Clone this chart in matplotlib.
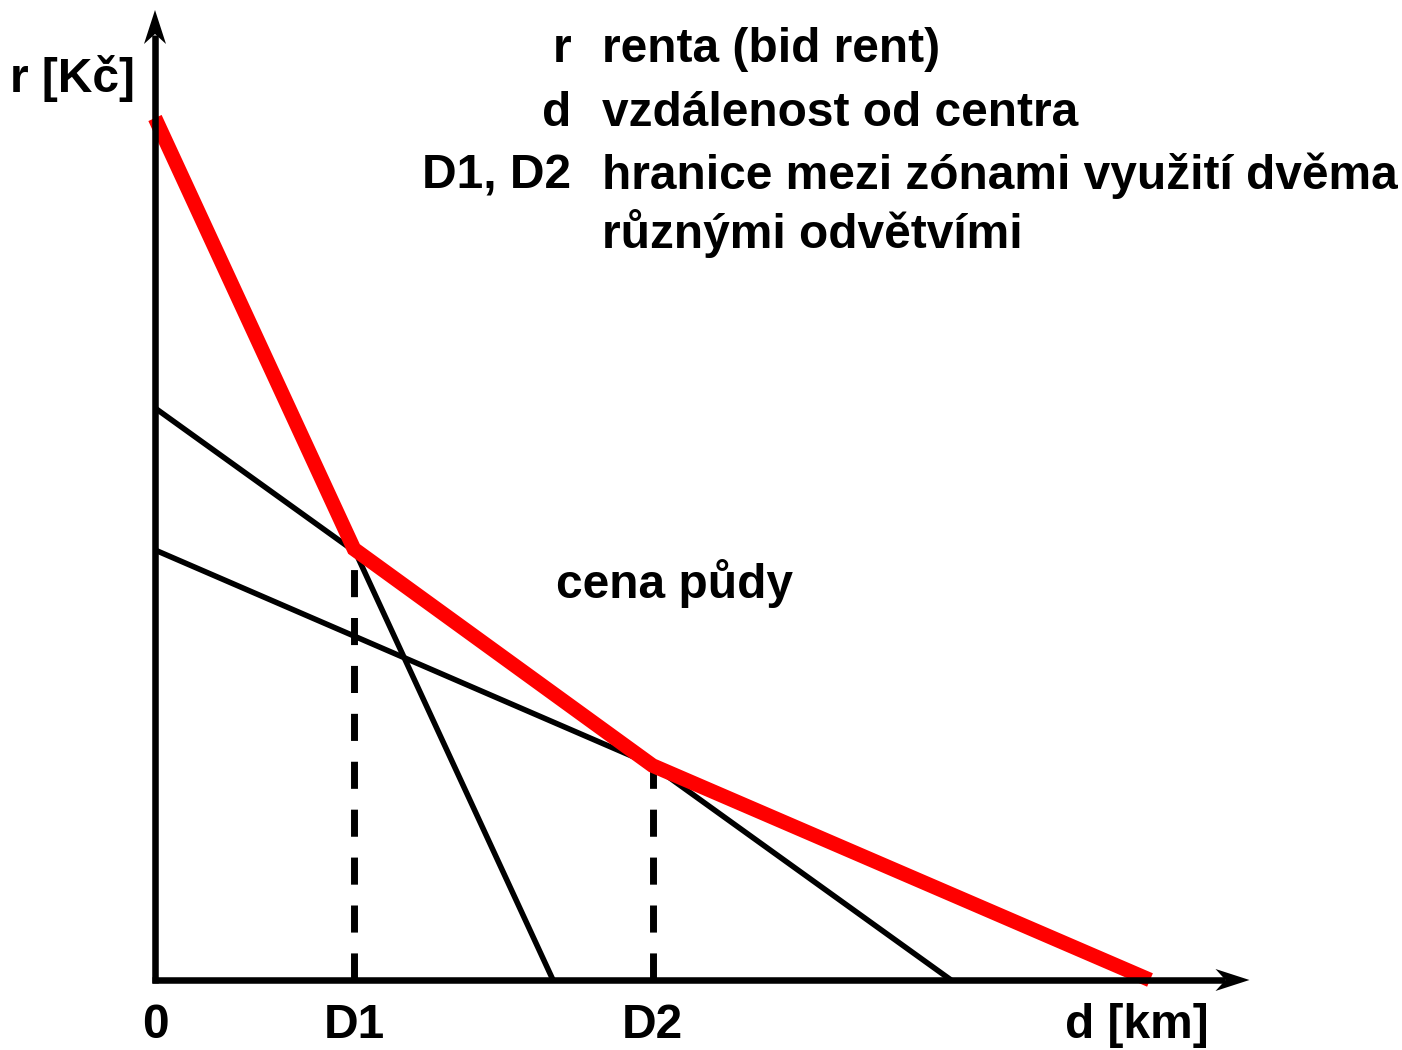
import numpy as np
import matplotlib.pyplot as plt
from matplotlib.patches import Polygon
from matplotlib.transforms import ScaledTranslation

plt.rcParams['font.family'] = ['Liberation Sans', 'DejaVu Sans']

# bid rent lines: intercept on r axis and on d axis
r0 = [8.62, 5.72, 4.30]
d0 = [4.0, 8.0, 10.0]
# zone borders
D = [2.0, 5.0]
tick_labels = ['0', 'D1', 'D2']

W, H = 1402, 1050
fig = plt.figure(figsize=(W / 100, H / 100), dpi=100)
ox, oy = 155, 980          # origin in pixels
sx, sy = 99.5, 100.0       # pixels per unit
xmax, ymax = 11.0, 9.7
ax = fig.add_axes([ox / W, (H - oy) / H, xmax * sx / W, ymax * sy / H])
ax.set_xlim(0, xmax)
ax.set_ylim(0, ymax)
ax.axis('off')

def rent(i, d):
    return r0[i] * (1 - d / d0[i])

# black bid rent lines
for i in range(3):
    ax.plot([0, d0[i]], [r0[i], 0], color='black', lw=4.0, clip_on=False,
            solid_capstyle='butt')

# envelope (red)
env_x = [0, D[0], D[1], d0[2]]
env_y = [r0[0], rent(0, D[0]), rent(1, D[1]), 0]
ax.plot(env_x, env_y, color='#ff0000', lw=10.5, clip_on=False,
        solid_capstyle='butt', solid_joinstyle='miter', zorder=5)

# dashed borders
for i, dd in enumerate(D):
    ax.plot([dd, dd], [0, env_y[i + 1]], color='black', lw=5.0,
            dashes=(3.9, 3.0), clip_on=False, zorder=3)

# axes with stealth arrow heads
ax.plot([0, 0], [-0.03, ymax - 0.25], color='black', lw=4.7, clip_on=False,
        solid_capstyle='butt', zorder=6)
ax.plot([-0.03, xmax - 0.25], [0, 0], color='black', lw=4.7, clip_on=False,
        solid_capstyle='butt', zorder=6)

def arrow_head(x, y, up):
    # head shape in inches (100 px per inch)
    pts = np.array([(0, 0), (-0.34, 0.11), (-0.24, 0), (-0.34, -0.11)])
    if up:
        pts = pts[:, ::-1]
    tr = fig.dpi_scale_trans + ScaledTranslation(x, y, ax.transData)
    ax.add_patch(Polygon(pts, closed=True, transform=tr, facecolor='black',
                         edgecolor='none', clip_on=False, zorder=7))

arrow_head(0, ymax, True)
arrow_head(xmax, 0, False)

fs = 34.5
kw = dict(fontsize=fs, fontweight='bold', color='black')
for xv, lab in zip([0] + D, tick_labels):
    ax.text(xv, -0.45, lab, ha='center', va='center', **kw)
ax.text(9.87, -0.45, 'd [km]', ha='center', va='center', **kw)
fig.text(72 / W, 1 - 78 / H, 'r [Kč]', ha='center', va='center', **kw)

# legend text
legend_keys = ['r', 'd', 'D1, D2', '']
legend_vals = ['renta (bid rent)', 'vzdálenost od centra',
               'hranice mezi zónami využití dvěma', 'různými odvětvími']
row_y = [50, 113, 176, 234]
for k, v, yy in zip(legend_keys, legend_vals, row_y):
    fig.text(571 / W, 1 - yy / H, k, ha='right', va='center', **kw)
    fig.text(602 / W, 1 - yy / H, v, ha='left', va='center', **kw)

fig.text(556 / W, 1 - 583 / H, 'cena půdy', ha='left', va='center', **kw)

fig.savefig('out.png', dpi=100)
